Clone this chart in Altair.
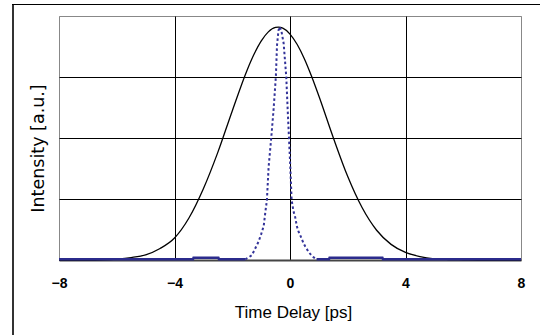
import altair as alt
import pandas as pd

# Black trace: broad autocorrelation
black_x = [-8, -7.5, -7, -6.5, -6, -5.5, -5, -4.5, -4, -3.5, -3, -2.5, -2, -1.5, -1.25, -1, -0.75,
           -0.5, -0.4, -0.25, 0, 0.25, 0.5, 0.75, 1, 1.5, 2, 2.5, 3, 3.5, 4, 4.5, 5, 5.5, 6, 6.5, 7, 7.5, 8]
black_y = [0, 0, 0, 0.001, 0.004, 0.010, 0.021, 0.047, 0.090, 0.172, 0.292, 0.441, 0.611, 0.774, 0.842,
           0.897, 0.935, 0.953, 0.954, 0.950, 0.926, 0.883, 0.824, 0.752, 0.672, 0.501, 0.342, 0.214,
           0.122, 0.064, 0.031, 0.014, 0.005, 0.002, 0.001, 0, 0, 0, 0]

# Blue trace: narrow pulse
blue_x = [-8, -3.36, -3.34, -2.48, -2.46, -1.55,
          -1.55, -1.43, -1.32, -1.26, -1.09, -1.0, -0.91, -0.85, -0.80, -0.74, -0.65, -0.57, -0.49,
          -0.45, -0.40, -0.36, -0.30, -0.22, -0.13, -0.08, -0.035, 0.01, 0.056, 0.12, 0.18, 0.24,
          0.30, 0.36, 0.47, 0.53, 0.64, 0.76, 0.82, 0.92,
          0.92, 1.35, 1.37, 3.20, 3.22, 8]
blue_y = [0.003, 0.003, 0.009, 0.009, 0.003, 0.003,
          0.003, 0.011, 0.020, 0.034, 0.075, 0.105, 0.140, 0.200, 0.245, 0.382, 0.500, 0.615, 0.751,
          0.880, 0.940, 0.956, 0.940, 0.888, 0.751, 0.615, 0.500, 0.382, 0.246, 0.200, 0.175, 0.137,
          0.115, 0.100, 0.068, 0.055, 0.034, 0.016, 0.011, 0.003,
          0.003, 0.003, 0.009, 0.009, 0.003, 0.003]
blue_seg = ["b1"] * 6 + ["p"] * 34 + ["b2"] * 6

black_df = pd.DataFrame({"t": black_x, "v": black_y})
blue_df = pd.DataFrame({"t": blue_x, "v": blue_y, "seg": blue_seg})

FONT = "Liberation Sans"

x_enc = alt.X(
    "t:Q",
    scale=alt.Scale(domain=[-8, 8], nice=False),
    axis=alt.Axis(
        values=[-8, -4, 0, 4, 8], format="d", labelFont=FONT, labelFontWeight="bold",
        labelFontSize=14, labelColor="#000", ticks=False, labelPadding=16, labelFlush=False,
        domainColor="#444", domainWidth=2,
        gridColor={"condition": {"test": "abs(datum.value) == 8", "value": "#888888"}, "value": "#000000"},
        gridWidth=1, title="Time Delay [ps]", titleFont=FONT, titleFontSize=17,
        titleFontWeight="normal", titleColor="#000", titleX=234, titleY=57,
        titleBaseline="alphabetic", titleAlign="center",
    ),
)
y_enc = alt.Y(
    "v:Q",
    scale=alt.Scale(domain=[0, 1], nice=False, zero=True),
    axis=alt.Axis(
        values=[0.25, 0.5, 0.75], labels=False, ticks=False, domain=False, gridColor="#000",
        gridWidth=1, title="Intensity [a.u.]", titleFont="DejaVu Sans", titleFontSize=17.5,
        titleFontWeight="normal", titleColor="#000", titleX=-16, titleY=132,
        titleBaseline="alphabetic", titleAlign="center", titleAngle=270,
    ),
)

black = alt.Chart(black_df).mark_line(color="#000", strokeWidth=1.3, interpolate="monotone").encode(
    x=x_enc, y=y_enc
)

base_src = alt.Chart(blue_df)
blue_base = base_src.transform_filter("datum.seg != 'p'").mark_line(
    color="#2B2B8C", strokeWidth=2.5
).encode(x="t:Q", y="v:Q", detail="seg:N")
blue_pulse = base_src.transform_filter("datum.seg == 'p'").mark_line(
    color="#333399", strokeWidth=2, strokeDash=[2.5, 2.5]
).encode(x="t:Q", y="v:Q")

one = pd.DataFrame({"a": [0]})
frame_left = alt.Chart(one).mark_rule(color="#333", strokeWidth=2).encode(
    x=alt.value(-46), y=alt.value(-11.5), y2=alt.value(400)
)
frame_top = alt.Chart(one).mark_rule(color="#000", strokeWidth=1).encode(
    x=alt.value(-47), x2=alt.value(600), y=alt.value(-11.5)
)

chart = (
    alt.layer(black, blue_base, blue_pulse, frame_left, frame_top)
    .properties(
        width=462, height=244,
        autosize=alt.AutoSizeParams(type="none"),
        padding={"left": 59, "top": 16, "right": 19, "bottom": 75},
        background="white",
    )
    .configure_view(stroke="#888888", strokeWidth=1)
)

chart.save("out.html", embed_options={"renderer": "svg", "actions": False})
